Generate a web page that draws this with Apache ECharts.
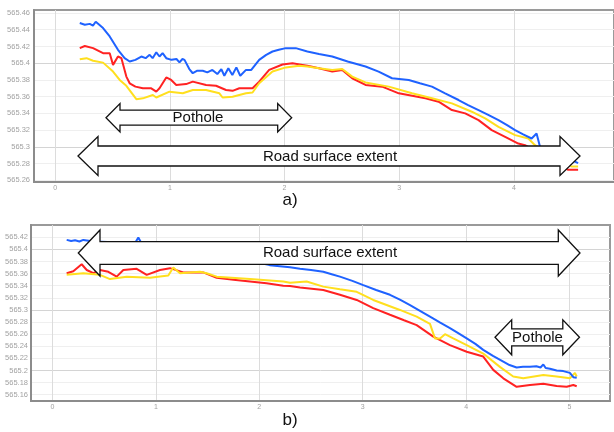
<!DOCTYPE html>
<html><head><meta charset="utf-8">
<script src="https://cdn.jsdelivr.net/npm/echarts@6/dist/echarts.min.js"></script>
<style>html,body{margin:0;padding:0;background:#fff}#c{width:614px;height:432px}</style>
</head><body><div id="c"></div>
<script>
// ---- Data ----
const topXTicks = [0, 1, 2, 3, 4];
const bottomXTicks = [0, 1, 2, 3, 4, 5];
const topYTicks = [565.26, 565.28, 565.30, 565.32, 565.34, 565.36, 565.38, 565.40, 565.42, 565.44, 565.46];
const bottomYTicks = [565.16, 565.18, 565.20, 565.22, 565.24, 565.26, 565.28, 565.30, 565.32, 565.34, 565.36, 565.38, 565.40, 565.42];

const topBlue = [
  [0.215,565.448],[0.259,565.446],[0.302,565.447],[0.33,565.445],[0.354,565.4496],[0.385,565.446],[0.418,565.442],
  [0.476,565.432],[0.548,565.416],[0.606,565.406],[0.650,565.402],[0.70,565.404],[0.752,565.408],[0.789,565.406],
  [0.824,565.410],[0.85,565.406],[0.882,565.413],[0.91,565.408],[0.937,565.412],[0.969,565.406],[1.015,565.404],
  [1.058,565.405],[1.084,565.401],[1.11,565.405],[1.128,565.404],[1.17,565.393],[1.2,565.388],[1.24,565.391],
  [1.287,565.391],[1.327,565.389],[1.371,565.392],[1.414,565.387],[1.449,565.393],[1.475,565.385],[1.51,565.394],
  [1.545,565.386],[1.58,565.395],[1.614,565.385],[1.664,565.392],[1.71,565.392],[1.779,565.404],[1.84,565.410],
  [1.895,565.414],[1.95,565.416],[2.011,565.418],[2.098,565.418],[2.199,565.414],[2.30,565.411],[2.416,565.408],
  [2.55,565.402],[2.706,565.396],[2.82,565.390],[2.937,565.382],[3.083,565.380],[3.18,565.376],[3.285,565.372],
  [3.40,565.364],[3.517,565.356],[3.60,565.350],[3.691,565.344],[3.78,565.338],[3.865,565.332],[3.94,565.326],
  [4.010,565.320],[4.08,565.315],[4.154,565.310],[4.197,565.316],[4.227,565.300],[4.30,565.295],[4.386,565.290],
  [4.501,565.2845],[4.559,565.2805]
];
const topRed = [
  [0.215,565.418],[0.259,565.4206],[0.331,565.418],[0.418,565.412],[0.476,565.412],[0.505,565.398],[0.548,565.408],
  [0.578,565.406],[0.621,565.384],[0.650,565.376],[0.70,565.372],[0.765,565.370],[0.838,565.370],[0.882,565.366],
  [0.910,565.370],[0.969,565.383],[1.012,565.380],[1.056,565.374],[1.142,565.375],[1.200,565.378],[1.316,565.374],
  [1.403,565.373],[1.490,565.368],[1.547,565.367],[1.606,565.370],[1.721,565.370],[1.779,565.378],[1.866,565.392],
  [1.982,565.3985],[2.069,565.400],[2.156,565.398],[2.199,565.397],[2.30,565.394],[2.416,565.390],[2.503,565.392],
  [2.590,565.382],[2.706,565.374],[2.851,565.372],[2.996,565.364],[3.228,565.358],[3.343,565.354],[3.459,565.344],
  [3.575,565.340],[3.691,565.332],[3.806,565.320],[3.923,565.312],[4.038,565.304],[4.096,565.302],[4.255,565.290],
  [4.386,565.280],[4.473,565.2725],[4.559,565.2725]
];
const topYellow = [
  [0.215,565.4047],[0.274,565.406],[0.331,565.403],[0.418,565.4007],[0.505,565.390],[0.563,565.380],[0.621,565.373],
  [0.708,565.357],[0.765,565.358],[0.852,565.362],[0.882,565.359],[0.997,565.366],[1.113,565.364],[1.200,565.368],
  [1.316,565.368],[1.432,565.364],[1.460,565.359],[1.547,565.360],[1.664,565.364],[1.721,565.365],[1.779,565.376],
  [1.895,565.390],[2.011,565.395],[2.127,565.397],[2.199,565.396],[2.30,565.394],[2.416,565.392],[2.503,565.393],
  [2.590,565.384],[2.706,565.377],[2.909,565.372],[3.111,565.364],[3.285,565.358],[3.459,565.352],[3.632,565.342],
  [3.749,565.334],[3.865,565.324],[4.010,565.314],[4.125,565.310],[4.183,565.302],[4.342,565.290],[4.501,565.2765],
  [4.559,565.2765]
];

const bottomBlue = [
  [0.137,565.4157],[0.18,565.414],[0.218,565.415],[0.26,565.413],[0.298,565.4157],[0.4,565.413],[0.6,565.412],
  [0.8,565.411],[0.83,565.4195],[0.86,565.410],[1.0,565.408],[1.2,565.404],[1.4,565.398],[1.6,565.392],[1.8,565.385],
  [2.0,565.378],[2.10,565.374],[2.297,565.3706],[2.394,565.368],[2.50,565.366],[2.619,565.363],[2.635,565.366],
  [2.70,565.359],[2.780,565.355],[2.90,565.348],[3.006,565.341],[3.13,565.333],[3.264,565.325],[3.36,565.317],
  [3.458,565.308],[3.55,565.299],[3.651,565.289],[3.75,565.279],[3.844,565.270],[3.92,565.262],[4.006,565.253],
  [4.09,565.244],[4.166,565.234],[4.26,565.224],[4.360,565.2146],[4.42,565.209],[4.489,565.205],[4.55,565.206],
  [4.618,565.206],[4.68,565.207],[4.72,565.205],[4.747,565.210],[4.77,565.204],[4.811,565.203],[4.876,565.200],
  [4.94,565.199],[5.004,565.196],[5.037,565.189],[5.070,565.188]
];
const bottomRed = [
  [0.137,565.3607],[0.201,565.364],[0.282,565.3755],[0.331,565.366],[0.395,565.3607],[0.459,565.366],[0.540,565.363],
  [0.621,565.355],[0.685,565.366],[0.814,565.368],[0.911,565.358],[1.040,565.366],[1.136,565.369],[1.265,565.362],
  [1.458,565.362],[1.588,565.353],[1.75,565.350],[1.910,565.347],[2.07,565.344],[2.232,565.340],[2.297,565.3397],
  [2.394,565.337],[2.619,565.333],[2.78,565.325],[2.942,565.3165],[3.102,565.303],[3.264,565.292],[3.40,565.283],
  [3.522,565.275],[3.683,565.256],[3.844,565.242],[4.006,565.231],[4.166,565.223],[4.263,565.201],[4.360,565.187],
  [4.489,565.173],[4.618,565.176],[4.747,565.178],[4.876,565.1744],[4.973,565.173],[5.037,565.176],[5.070,565.174]
];
const bottomYellow = [
  [0.137,565.358],[0.298,565.3607],[0.459,565.358],[0.556,565.351],[0.718,565.355],[0.943,565.353],[1.120,565.357],
  [1.168,565.370],[1.233,565.3607],[1.426,565.363],[1.491,565.3607],[1.588,565.355],[1.910,565.351],[2.232,565.347],
  [2.297,565.345],[2.458,565.347],[2.619,565.3385],[2.78,565.334],[2.942,565.330],[3.102,565.3165],[3.360,565.300],
  [3.522,565.289],[3.651,565.277],[3.699,565.253],[3.748,565.253],[3.796,565.260],[3.876,565.253],[4.006,565.242],
  [4.166,565.228],[4.327,565.206],[4.456,565.190],[4.553,565.187],[4.747,565.1926],[4.876,565.190],[5.004,565.187],
  [5.053,565.196],[5.070,565.190]
];

// ---- Chart ----
const blue = '#1f62ff', red = '#ff2222', yellow = '#ffdf1e';
const gridLine = ['#efefef', '#efefef', '#d4d4d4', '#efefef', '#efefef'];
const labelColor = '#a2a2a2';
const fmt = v => String(+(+v).toFixed(2));

function xAxisCfg(idx, min, max, ticks) {
  return {
    type: 'value', gridIndex: idx, min: min, max: max,
    axisLine: { show: true, onZero: false, lineStyle: { color: '#8c8c8c', width: 2 } },
    axisTick: { show: false, customValues: ticks },
    axisLabel: { customValues: ticks, color: labelColor, fontSize: 7, margin: 3, fontFamily: 'Liberation Sans' },
    splitLine: { show: true, lineStyle: { color: '#dcdcdc', width: 1 } }
  };
}
function yAxisCfg(idx, min, max, ticks, margin) {
  return {
    type: 'value', gridIndex: idx, min: min, max: max,
    axisLine: { show: true, onZero: false, lineStyle: { color: '#8c8c8c', width: 2 } },
    axisTick: { show: false, customValues: ticks },
    axisLabel: { customValues: ticks, color: labelColor, fontSize: 7.5, margin: margin, formatter: fmt, fontFamily: 'Liberation Sans' },
    splitLine: { show: true, lineStyle: { color: gridLine, width: 1 } }
  };
}
function lineSeries(idx, data, color) {
  return {
    type: 'line', xAxisIndex: idx, yAxisIndex: idx, data: data, showSymbol: false, symbol: 'none',
    lineStyle: { color: color, width: 2 }, itemStyle: { color: color }, animation: false, z: 3
  };
}
function dblArrow(xl, xr, yc, hl, hh, sh) {
  return [[xl, yc], [xl + hl, yc - hh], [xl + hl, yc - sh], [xr - hl, yc - sh], [xr - hl, yc - hh], [xr, yc],
          [xr - hl, yc + hh], [xr - hl, yc + sh], [xl + hl, yc + sh], [xl + hl, yc + hh]];
}
const arrowStyle = { fill: '#ffffff', stroke: '#111111', lineWidth: 1.3 };
const textStyle = (t, x, y) => ({
  type: 'text', x: x, y: y, z: 101,
  style: { text: t, fill: '#111', font: '15px "Liberation Sans", Arial, sans-serif', align: 'center', verticalAlign: 'middle' }
});

const chart = echarts.init(document.getElementById('c'), null, { renderer: 'canvas' });
chart.setOption({
  animation: false,
  backgroundColor: '#ffffff',
  grid: [
    { left: 34, top: 10, width: 582, height: 172, show: true, borderColor: '#9a9a9a', borderWidth: 2, containLabel: false },
    { left: 31, top: 225, width: 579, height: 176, show: true, borderColor: '#9a9a9a', borderWidth: 2, containLabel: false }
  ],
  xAxis: [
    xAxisCfg(0, -0.184, 4.872, topXTicks),
    xAxisCfg(1, -0.208, 5.392, bottomXTicks)
  ],
  yAxis: [
    yAxisCfg(0, 565.258, 565.4636, topYTicks, 4),
    yAxisCfg(1, 565.1496, 565.4403, bottomYTicks, 3)
  ],
  series: [
    lineSeries(0, topRed, red), lineSeries(0, topYellow, yellow), lineSeries(0, topBlue, blue),
    lineSeries(1, bottomRed, red), lineSeries(1, bottomYellow, yellow), lineSeries(1, bottomBlue, blue)
  ],
  graphic: [
    { type: 'polygon', z: 100, shape: { points: dblArrow(78, 580, 156, 20, 19.5, 10) }, style: arrowStyle },
    textStyle('Road surface extent', 330, 156.5),
    { type: 'polygon', z: 100, shape: { points: dblArrow(106, 291.7, 117.7, 14, 14.2, 7.5) }, style: arrowStyle },
    textStyle('Pothole', 198, 118),
    { type: 'polygon', z: 100, shape: { points: dblArrow(78.3, 580, 253, 21.7, 23, 11.3) }, style: arrowStyle },
    textStyle('Road surface extent', 330, 253),
    { type: 'polygon', z: 100, shape: { points: dblArrow(495, 579.5, 337.3, 16.7, 17.5, 8.5) }, style: arrowStyle },
    textStyle('Pothole', 537.5, 337.5),
    { type: 'text', x: 290, y: 200, z: 101, style: { text: 'a)', fill: '#111', font: '17px "Liberation Sans", Arial, sans-serif', align: 'center', verticalAlign: 'middle' } },
    { type: 'text', x: 290, y: 420, z: 101, style: { text: 'b)', fill: '#111', font: '17px "Liberation Sans", Arial, sans-serif', align: 'center', verticalAlign: 'middle' } }
  ]
});
</script>
</body></html>
